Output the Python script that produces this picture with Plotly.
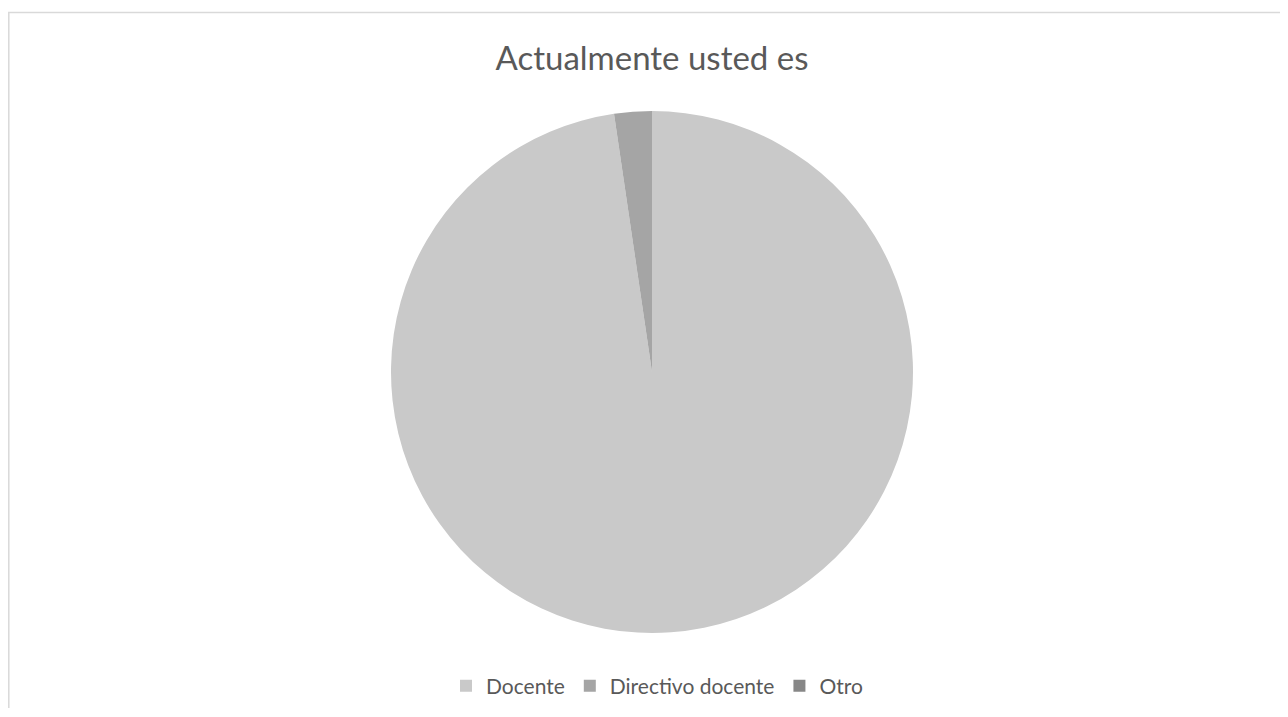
import plotly.graph_objects as go

labels = ["Docente", "Directivo docente", "Otro"]
values = [42, 1, 0]
colors = ["#c9c9c9", "#a5a5a5", "#878787"]

# page has an 8px body margin; figure placed at (8, 8)
W, H = 1272, 700
OX, OY = 8, 8

def px_x(x):
    return (x - OX) / W

def px_y(y):
    return 1 - (y - OY) / H

fig = go.Figure(go.Pie(
    labels=labels,
    values=values,
    marker=dict(colors=colors, line=dict(width=0)),
    sort=False,
    direction="clockwise",
    rotation=0,
    textinfo="none",
    hoverinfo="label+percent",
    domain=dict(x=[px_x(391), px_x(913)], y=[px_y(633), px_y(111)]),
))

fig.update_layout(
    width=W, height=H,
    margin=dict(l=0, r=0, t=0, b=0),
    paper_bgcolor="white",
    font=dict(family="Lato, 'Open Sans', sans-serif", color="#595959"),
    title=dict(text="Actualmente usted es", x=px_x(652), xanchor="center",
               y=px_y(58), yanchor="middle",
               font=dict(size=33, color="#595959")),
    legend=dict(orientation="h", x=px_x(657), xanchor="center",
                y=px_y(686), yanchor="middle",
                font=dict(size=21, color="#595959"),
                itemclick=False),
    shapes=[dict(type="rect", xref="paper", yref="paper",
                 x0=0.8 / W, x1=1.05, y0=-0.05, y1=px_y(12.5),
                 line=dict(color="#d9d9d9", width=1.5), fillcolor="rgba(0,0,0,0)")],
)

fig.write_html("out.html")
